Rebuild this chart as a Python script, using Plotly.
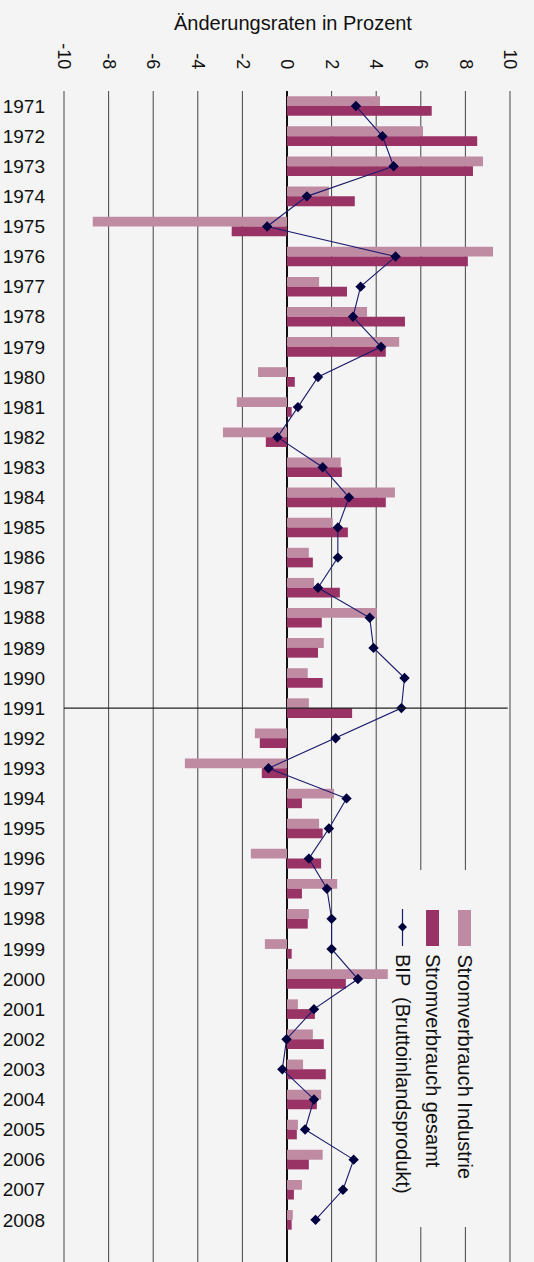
import plotly.graph_objects as go

years = [str(y) for y in range(1971, 2009)]
industrie = [4.17, 6.10, 8.79, 1.88, -8.71, 9.24, 1.44, 3.59, 5.03, -1.30,
             -2.25, -2.87, 2.41, 4.84, 2.05, 0.98, 1.21, 4.03, 1.65, 0.93,
             0.98, -1.44, -4.58, 2.11, 1.44, -1.62, 2.25, 0.98, -0.99, 4.52,
             0.49, 1.16, 0.72, 1.53, 0.49, 1.60, 0.67, 0.26]
gesamt = [6.49, 8.53, 8.34, 3.04, -2.48, 8.11, 2.69, 5.29, 4.43, 0.35,
          0.21, -0.95, 2.46, 4.43, 2.73, 1.16, 2.37, 1.56, 1.39, 1.60,
          2.92, -1.22, -1.13, 0.67, 1.60, 1.53, 0.67, 0.93, 0.21, 2.64,
          1.25, 1.65, 1.74, 1.34, 0.44, 0.98, 0.31, 0.21]
bip = [3.09, 4.28, 4.78, 0.89, -0.89, 4.87, 3.30, 2.96, 4.22, 1.39,
       0.49, -0.43, 1.60, 2.78, 2.28, 2.28, 1.39, 3.71, 3.88, 5.27,
       5.13, 2.18, -0.83, 2.67, 1.88, 0.98, 1.79, 2.00, 2.00, 3.18,
       1.21, -0.02, -0.21, 1.21, 0.81, 2.99, 2.51, 1.28]
x_ticks = [-10, -8, -6, -4, -2, 0, 2, 4, 6, 8, 10]
title_text = "Änderungsraten in Prozent"
names = ["Stromverbrauch Industrie", "Stromverbrauch gesamt", "BIP  (Bruttoinlandsprodukt)"]
marked_year = "1991"

C_IND = "#BF8BA3"
C_GES = "#993366"
C_BIP = "#1A1A6E"
C_MRK = "#000040"
BG = "#F4F4F4"
FONT = "Liberation Sans, Arial, Helvetica, sans-serif"

W, H = 534, 1262
L, R, T, B = 62, 22, 91, 0
PW, PH = W - L - R, H - T - B


def px(x):
    return (x - L) / PW


def py(y):
    return (H - B - y) / PH


fig = go.Figure()
fig.add_trace(go.Bar(y=years, x=industrie, orientation="h", name=names[0],
                     marker=dict(color=C_IND, line=dict(width=0))))
fig.add_trace(go.Bar(y=years, x=gesamt, orientation="h", name=names[1],
                     marker=dict(color=C_GES, line=dict(width=0))))
fig.add_trace(go.Scatter(y=years, x=bip, mode="lines+markers", name=names[2],
                         line=dict(color=C_BIP, width=1.1),
                         marker=dict(symbol="diamond", size=8, color=C_MRK)))

shapes = []
# vertical gridlines at the tick values
for v in x_ticks:
    if v == 0:
        continue
    shapes.append(dict(type="line", xref="x", yref="paper", x0=v, x1=v, y0=0, y1=1,
                       line=dict(color="#444444", width=1), layer="between"))
# legend background box (hides gridlines)
shapes.append(dict(type="rect", xref="paper", yref="paper",
                   x0=px(388), x1=px(503), y0=py(1227), y1=py(870),
                   fillcolor=BG, line=dict(width=0), layer="between"))
# horizontal marker line at the marked year (category index)
mi = years.index(marked_year)
shapes.append(dict(type="line", xref="x", yref="y", x0=-10, x1=9.9,
                   y0=mi, y1=mi,
                   line=dict(color="#222222", width=1.3), layer="above"))
# legend swatches
shapes.append(dict(type="rect", xref="paper", yref="paper",
                   x0=px(458), x1=px(471), y0=py(946), y1=py(910),
                   fillcolor=C_IND, line=dict(width=0)))
shapes.append(dict(type="rect", xref="paper", yref="paper",
                   x0=px(426), x1=px(439), y0=py(946), y1=py(910),
                   fillcolor=C_GES, line=dict(width=0)))
shapes.append(dict(type="line", xref="paper", yref="paper",
                   x0=px(402.5), x1=px(402.5), y0=py(946), y1=py(909),
                   line=dict(color=C_BIP, width=1.2)))
cx, cy, d = 402.5, 927, 4.5
shapes.append(dict(type="path", xref="paper", yref="paper",
                   path=f"M {px(cx)} {py(cy-d)} L {px(cx+d)} {py(cy)} L {px(cx)} {py(cy+d)} L {px(cx-d)} {py(cy)} Z",
                   fillcolor=C_MRK, line=dict(width=0)))

annotations = []
for name, xc in zip(names, [465, 433, 403]):
    annotations.append(dict(text=name, textangle=90, xref="paper", yref="paper",
                            x=px(xc), y=py(952), xanchor="center", yanchor="top",
                            showarrow=False, font=dict(family=FONT, size=20, color="#111111")))
annotations.append(dict(text=title_text, xref="paper", yref="paper",
                        x=px(172), y=py(23), xanchor="left", yanchor="middle",
                        showarrow=False, font=dict(family=FONT, size=20, color="#111111")))

fig.update_layout(
    width=W, height=H,
    margin=dict(l=L, r=R, t=T, b=B, pad=0),
    paper_bgcolor=BG, plot_bgcolor=BG,
    barmode="group", bargap=0.35, bargroupgap=0,
    showlegend=False,
    font=dict(family=FONT, size=19, color="#111111"),
    shapes=shapes, annotations=annotations,
    xaxis=dict(range=[-10.09, 10.09], side="top", tickvals=x_ticks,
               ticktext=[str(v) for v in x_ticks], tickangle=90,
               showgrid=False,
               zeroline=True, zerolinecolor="#111111", zerolinewidth=2,
               showline=False, ticks="", ticklabelstandoff=18,
               tickfont=dict(family=FONT, size=18, color="#111111")),
    yaxis=dict(type="category", categoryorder="array", categoryarray=years,
               range=[38.4, -0.5], showgrid=False, zeroline=False,
               showline=False, ticks="", ticklabelstandoff=16,
               tickfont=dict(family=FONT, size=19, color="#111111")),
)

fig.write_html("out.html", config={"displayModeBar": False},
               post_script="document.body.style.margin='0';document.body.style.background='#F4F4F4';")
